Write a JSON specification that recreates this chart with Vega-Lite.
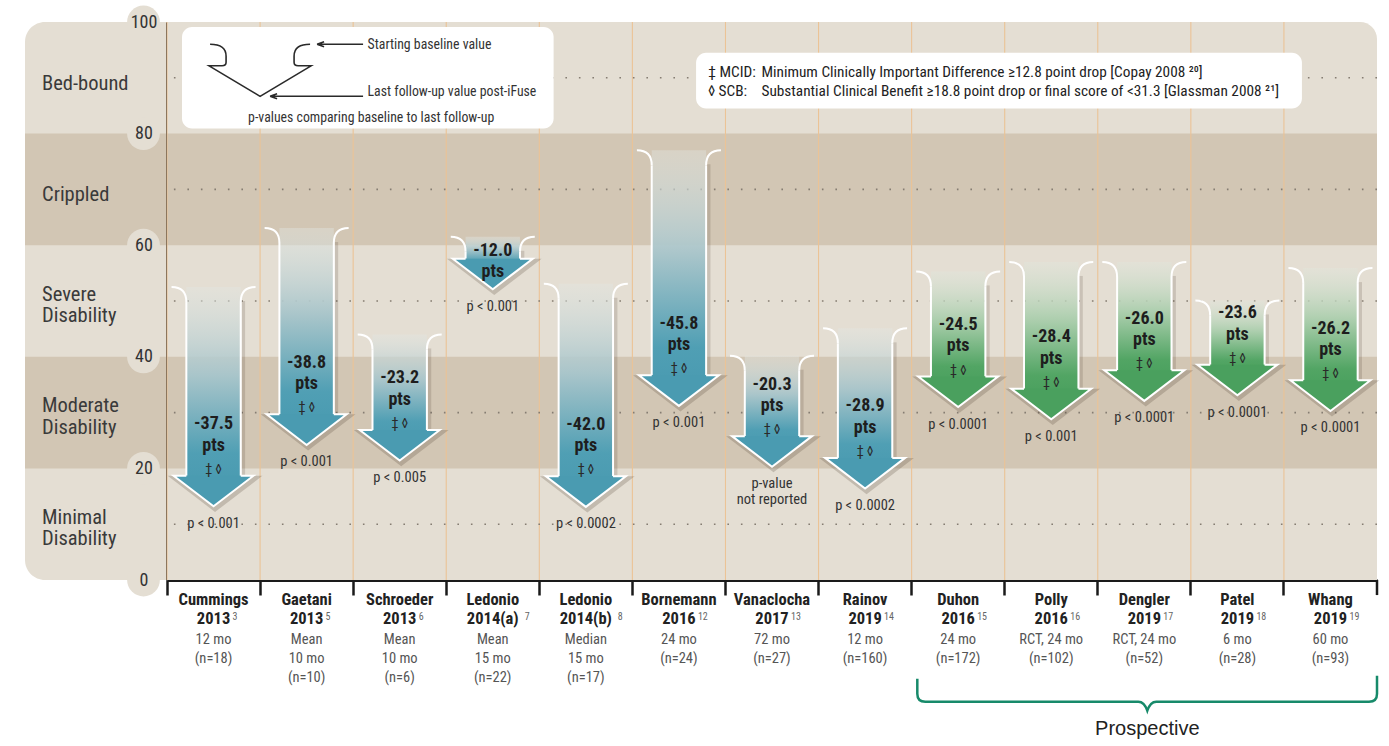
{
  "$schema": "https://vega.github.io/schema/vega-lite/v6.json",
  "background": "white",
  "padding": {"left": 25, "top": 5, "right": 5, "bottom": 5},
  "spacing": 0,
  "bounds": "flush",
  "config": {
    "view": {"stroke": null},
    "font": "Roboto Condensed, DejaVu Sans Condensed, Liberation Sans Narrow, Arial Narrow, Roboto, sans-serif",
    "text": {"font": "Roboto Condensed, DejaVu Sans Condensed, Liberation Sans Narrow, Arial Narrow, Roboto, sans-serif"},
    "axis": {"zindex": 1, "labelFont": "Roboto Condensed, DejaVu Sans Condensed, Liberation Sans Narrow, Arial Narrow, Roboto, sans-serif", "grid": false},
    "axisX": {"bandPosition": 0, "labels": false, "ticks": true, "tickSize": 15, "tickWidth": 2.5, "tickColor": "#1a1a1a", "domainColor": "#1a1a1a", "domainWidth": 3},
    "axisY": {"tickCount": 6, "ticks": false, "domainColor": "#1a1a1a", "domainWidth": 3, "labelAlign": "center", "labelBaseline": "middle", "labelPadding": 23.5, "labelFontSize": 18, "labelColor": "#333333"}
  },
  "datasets": {
    "studies": [
      {"study": "Cummings 2013", "name": "Cummings", "year": "2013", "sup": "3", "detail": "12 mo\n(n=18)", "base": 52.5, "final": 13.2, "label": "-37.5\npts", "sig": "‡ ◊", "p": "p < 0.001", "group": "retro"},
      {"study": "Gaetani 2013", "name": "Gaetani", "year": "2013", "sup": "5", "detail": "Mean\n10 mo\n(n=10)", "base": 63.1, "final": 24.2, "label": "-38.8\npts", "sig": "‡ ◊", "p": "p < 0.001", "group": "retro"},
      {"study": "Schroeder 2013", "name": "Schroeder", "year": "2013", "sup": "6", "detail": "Mean\n10 mo\n(n=6)", "base": 44.0, "final": 21.4, "label": "-23.2\npts", "sig": "‡ ◊", "p": "p < 0.005", "group": "retro"},
      {"study": "Ledonio 2014(a)", "name": "Ledonio", "year": "2014(a)", "sup": "7", "detail": "Mean\n15 mo\n(n=22)", "base": 61.5, "final": 52.1, "label": "-12.0\npts", "sig": "", "p": "p < 0.001", "group": "retro"},
      {"study": "Ledonio 2014(b)", "name": "Ledonio", "year": "2014(b)", "sup": "8", "detail": "Median\n15 mo\n(n=17)", "base": 53.1, "final": 13.1, "label": "-42.0\npts", "sig": "‡ ◊", "p": "p < 0.0002", "group": "retro"},
      {"study": "Bornemann 2016", "name": "Bornemann", "year": "2016", "sup": "12", "detail": "24 mo\n(n=24)", "base": 77.0, "final": 31.2, "label": "-45.8\npts", "sig": "‡ ◊", "p": "p < 0.001", "group": "retro"},
      {"study": "Vanaclocha 2017", "name": "Vanaclocha", "year": "2017", "sup": "13", "detail": "72 mo\n(n=27)", "base": 40.2, "final": 20.3, "label": "-20.3\npts", "sig": "‡ ◊", "p": "p-value\nnot reported", "group": "retro"},
      {"study": "Rainov 2019", "name": "Rainov", "year": "2019", "sup": "14", "detail": "12 mo\n(n=160)", "base": 45.1, "final": 16.4, "label": "-28.9\npts", "sig": "‡ ◊", "p": "p < 0.0002", "group": "retro"},
      {"study": "Duhon 2016", "name": "Duhon", "year": "2016", "sup": "15", "detail": "24 mo\n(n=172)", "base": 55.3, "final": 31.0, "label": "-24.5\npts", "sig": "‡ ◊", "p": "p < 0.0001", "group": "pro"},
      {"study": "Polly 2016", "name": "Polly", "year": "2016", "sup": "16", "detail": "RCT, 24 mo\n(n=102)", "base": 57.0, "final": 28.8, "label": "-28.4\npts", "sig": "‡ ◊", "p": "p < 0.001", "group": "pro"},
      {"study": "Dengler 2019", "name": "Dengler", "year": "2019", "sup": "17", "detail": "RCT, 24 mo\n(n=52)", "base": 57.0, "final": 32.1, "label": "-26.0\npts", "sig": "‡ ◊", "p": "p < 0.0001", "group": "pro"},
      {"study": "Patel 2019", "name": "Patel", "year": "2019", "sup": "18", "detail": "6 mo\n(n=28)", "base": 50.1, "final": 33.1, "label": "-23.6\npts", "sig": "‡ ◊", "p": "p < 0.0001", "group": "pro"},
      {"study": "Whang 2019", "name": "Whang", "year": "2019", "sup": "19", "detail": "60 mo\n(n=93)", "base": 55.9, "final": 30.3, "label": "-26.2\npts", "sig": "‡ ◊", "p": "p < 0.0001", "group": "pro"}
    ],
    "bands": [
      {"lo": 80, "hi": 100, "mid": 90, "label": "Bed-bound", "shade": "light"},
      {"lo": 60, "hi": 80, "mid": 70, "label": "Crippled", "shade": "dark"},
      {"lo": 40, "hi": 60, "mid": 50, "label": "Severe\nDisability", "shade": "light"},
      {"lo": 20, "hi": 40, "mid": 30, "label": "Moderate\nDisability", "shade": "dark"},
      {"lo": 0, "hi": 20, "mid": 10, "label": "Minimal\nDisability", "shade": "light"}
    ],
    "ticks": [{"v": 0}, {"v": 20}, {"v": 40}, {"v": 60}, {"v": 80}, {"v": 100}]
  },
  "hconcat": [
    {
      "width": 142,
      "height": 558,
      "layer": [
        {
          "data": {"values": [{"top": 100, "bottom": 0}]},
          "mark": {"type": "rect", "fill": "#e4ded3", "cornerRadiusTopLeft": 20, "cornerRadiusBottomLeft": 20},
          "encoding": {
            "y": {"field": "top", "type": "quantitative", "scale": {"domain": [0, 100], "nice": false}, "axis": null},
            "y2": {"field": "bottom"}
          }
        },
        {
          "data": {"name": "bands"},
          "transform": [{"filter": "datum.shade === 'dark'"}],
          "mark": {"type": "rect", "fill": "#d2c6b4"},
          "encoding": {
            "y": {"field": "hi", "type": "quantitative", "scale": {"domain": [0, 100], "nice": false}, "axis": null},
            "y2": {"field": "lo"}
          }
        },
        {
          "data": {"name": "ticks"},
          "mark": {"type": "point", "shape": "circle", "size": 1075, "filled": true, "fill": "#e4ded3", "opacity": 1, "strokeWidth": 0},
          "encoding": {
            "x": {"datum": 0.8345, "type": "quantitative", "scale": {"domain": [0, 1], "nice": false, "zero": false}, "axis": null},
            "y": {"field": "v", "type": "quantitative", "scale": {"domain": [0, 100], "nice": false}, "axis": null}
          }
        },
        {
          "data": {"name": "bands"},
          "transform": [{"filter": "datum.mid >= 70"}],
          "mark": {"type": "text", "align": "left", "baseline": "middle", "dy": 6, "fontSize": 20.5, "color": "#3a3a3a"},
          "encoding": {
            "x": {"datum": 0.12, "type": "quantitative", "scale": {"domain": [0, 1], "nice": false, "zero": false}, "axis": null},
            "y": {"field": "mid", "type": "quantitative", "scale": {"domain": [0, 100], "nice": false}, "axis": null},
            "text": {"field": "label"}
          }
        },
        {
          "data": {"name": "bands"},
          "transform": [{"filter": "datum.mid < 70"}],
          "mark": {"type": "text", "align": "left", "baseline": "middle", "dy": -6.5, "fontSize": 20.5, "color": "#3a3a3a", "lineBreak": "\n", "lineHeight": 21.5},
          "encoding": {
            "x": {"datum": 0.12, "type": "quantitative", "scale": {"domain": [0, 1], "nice": false, "zero": false}, "axis": null},
            "y": {"field": "mid", "type": "quantitative", "scale": {"domain": [0, 100], "nice": false}, "axis": null},
            "text": {"field": "label"}
          }
        }
      ]
    },
    {
      "width": 1210,
      "height": 558,
      "layer": [
        {
          "data": {"values": [{"top": 100, "bottom": 0}]},
          "mark": {"type": "rect", "fill": "#e4ded3", "cornerRadiusTopRight": 17},
          "encoding": {
            "y": {"field": "top", "type": "quantitative", "scale": {"domain": [0, 100], "nice": false}, "title": null},
            "y2": {"field": "bottom"}
          }
        },
        {
          "data": {"name": "bands"},
          "transform": [{"filter": "datum.shade === 'dark'"}],
          "mark": {"type": "rect", "fill": "#d2c6b4"},
          "encoding": {
            "y": {"field": "hi", "type": "quantitative", "scale": {"domain": [0, 100], "nice": false}, "title": null},
            "y2": {"field": "lo"}
          }
        },
        {
          "data": {"name": "studies"},
          "mark": {"type": "rule", "color": "#ebc396", "strokeWidth": 1.1},
          "encoding": {
            "x": {"field": "study", "type": "nominal", "bandPosition": 0, "title": null, "scale": {"domain": ["Cummings 2013", "Gaetani 2013", "Schroeder 2013", "Ledonio 2014(a)", "Ledonio 2014(b)", "Bornemann 2016", "Vanaclocha 2017", "Rainov 2019", "Duhon 2016", "Polly 2016", "Dengler 2019", "Patel 2019", "Whang 2019"], "paddingInner": 0, "paddingOuter": 0}}
          }
        },
        {
          "data": {"name": "bands"},
          "mark": {"type": "rule", "color": "#857d72", "strokeWidth": 1.6, "strokeDash": [1.6, 11.9]},
          "encoding": {
            "y": {"field": "mid", "type": "quantitative", "scale": {"domain": [0, 100], "nice": false}, "title": null}
          }
        },
        {
          "data": {"values": [{"study": "Cummings 2013", "end": "Ledonio 2014(b)", "top": 99.1, "bottom": 80.9}]},
          "mark": {"type": "rect", "fill": "white", "cornerRadius": 10, "xOffset": 15, "x2Offset": 14.3},
          "encoding": {
            "x": {"field": "study", "type": "nominal", "bandPosition": 0, "title": null, "scale": {"domain": ["Cummings 2013", "Gaetani 2013", "Schroeder 2013", "Ledonio 2014(a)", "Ledonio 2014(b)", "Bornemann 2016", "Vanaclocha 2017", "Rainov 2019", "Duhon 2016", "Polly 2016", "Dengler 2019", "Patel 2019", "Whang 2019"], "paddingInner": 0, "paddingOuter": 0}},
            "x2": {"field": "end", "bandPosition": 0},
            "y": {"field": "top", "type": "quantitative", "scale": {"domain": [0, 100], "nice": false}, "title": null},
            "y2": {"field": "bottom"}
          }
        },
        {
          "data": {"values": [{"study": "Bornemann 2016", "end": "Whang 2019", "top": 94.5, "bottom": 84.5}]},
          "mark": {"type": "rect", "fill": "white", "cornerRadius": 10, "xOffset": 63.7, "x2Offset": 18},
          "encoding": {
            "x": {"field": "study", "type": "nominal", "bandPosition": 0, "title": null, "scale": {"domain": ["Cummings 2013", "Gaetani 2013", "Schroeder 2013", "Ledonio 2014(a)", "Ledonio 2014(b)", "Bornemann 2016", "Vanaclocha 2017", "Rainov 2019", "Duhon 2016", "Polly 2016", "Dengler 2019", "Patel 2019", "Whang 2019"], "paddingInner": 0, "paddingOuter": 0}},
            "x2": {"field": "end", "bandPosition": 0},
            "y": {"field": "top", "type": "quantitative", "scale": {"domain": [0, 100], "nice": false}, "title": null},
            "y2": {"field": "bottom"}
          }
        },
        {
          "data": {"values": [{"study": "Gaetani 2013", "v": 96.0}]},
          "mark": {"type": "point", "shape": "M -50 0 C -40 0 -34 3 -34 12 L -34 18 Q -34 21.5 -38 21.5 L -51 21.5 L 0 52 L 51 21.5 L 38 21.5 Q 34 21.5 34 18 L 34 12 C 34 3 40 0 50 0 M 57 0 L 103 0 M 57 0 L 64 -2.5 M 57 0 L 64 2.5 M 10 52 L 103 52 M 10 52 L 17 49.5 M 10 52 L 17 54.5", "size": 4, "filled": false, "stroke": "#2a2a2a", "strokeWidth": 1.6, "opacity": 1},
          "encoding": {
            "x": {"field": "study", "type": "nominal", "bandPosition": 0, "title": null, "scale": {"domain": ["Cummings 2013", "Gaetani 2013", "Schroeder 2013", "Ledonio 2014(a)", "Ledonio 2014(b)", "Bornemann 2016", "Vanaclocha 2017", "Rainov 2019", "Duhon 2016", "Polly 2016", "Dengler 2019", "Patel 2019", "Whang 2019"], "paddingInner": 0, "paddingOuter": 0}},
            "y": {"field": "v", "type": "quantitative", "scale": {"domain": [0, 100], "nice": false}, "title": null}
          }
        },
        {
          "data": {"values": [{"study": "Schroeder 2013", "v": 95.9, "t": "Starting baseline value"}, {"study": "Schroeder 2013", "v": 87.4, "t": "Last follow-up value post-iFuse"}]},
          "mark": {"type": "text", "align": "left", "baseline": "middle", "dx": 14.4, "fontSize": 13.8, "color": "#333333"},
          "encoding": {
            "x": {"field": "study", "type": "nominal", "bandPosition": 0, "title": null, "scale": {"domain": ["Cummings 2013", "Gaetani 2013", "Schroeder 2013", "Ledonio 2014(a)", "Ledonio 2014(b)", "Bornemann 2016", "Vanaclocha 2017", "Rainov 2019", "Duhon 2016", "Polly 2016", "Dengler 2019", "Patel 2019", "Whang 2019"], "paddingInner": 0, "paddingOuter": 0}},
            "y": {"field": "v", "type": "quantitative", "scale": {"domain": [0, 100], "nice": false}, "title": null},
            "text": {"field": "t"}
          }
        },
        {
          "data": {"values": [{"study": "Schroeder 2013", "v": 82.8, "t": "p-values comparing baseline to last follow-up"}]},
          "mark": {"type": "text", "align": "center", "baseline": "middle", "dx": 18, "fontSize": 13.8, "color": "#333333"},
          "encoding": {
            "x": {"field": "study", "type": "nominal", "bandPosition": 0, "title": null, "scale": {"domain": ["Cummings 2013", "Gaetani 2013", "Schroeder 2013", "Ledonio 2014(a)", "Ledonio 2014(b)", "Bornemann 2016", "Vanaclocha 2017", "Rainov 2019", "Duhon 2016", "Polly 2016", "Dengler 2019", "Patel 2019", "Whang 2019"], "paddingInner": 0, "paddingOuter": 0}},
            "y": {"field": "v", "type": "quantitative", "scale": {"domain": [0, 100], "nice": false}, "title": null},
            "text": {"field": "t"}
          }
        },
        {
          "data": {"values": [{"study": "Vanaclocha 2017", "v": 91.1, "t": "‡ MCID:"}, {"study": "Vanaclocha 2017", "v": 87.6, "t": "◊ SCB:"}]},
          "mark": {"type": "text", "align": "left", "baseline": "middle", "dx": -17.2, "fontSize": 15.3, "color": "#222222"},
          "encoding": {
            "x": {"field": "study", "type": "nominal", "bandPosition": 0, "title": null, "scale": {"domain": ["Cummings 2013", "Gaetani 2013", "Schroeder 2013", "Ledonio 2014(a)", "Ledonio 2014(b)", "Bornemann 2016", "Vanaclocha 2017", "Rainov 2019", "Duhon 2016", "Polly 2016", "Dengler 2019", "Patel 2019", "Whang 2019"], "paddingInner": 0, "paddingOuter": 0}},
            "y": {"field": "v", "type": "quantitative", "scale": {"domain": [0, 100], "nice": false}, "title": null},
            "text": {"field": "t"}
          }
        },
        {
          "data": {"values": [{"study": "Vanaclocha 2017", "v": 91.1, "t": "Minimum Clinically Important Difference ≥12.8 point drop  [Copay 2008 ²⁰]"}, {"study": "Vanaclocha 2017", "v": 87.6, "t": "Substantial Clinical Benefit ≥18.8 point drop or final score of <31.3   [Glassman 2008 ²¹]"}]},
          "mark": {"type": "text", "align": "left", "baseline": "middle", "dx": 36, "fontSize": 15.3, "color": "#222222"},
          "encoding": {
            "x": {"field": "study", "type": "nominal", "bandPosition": 0, "title": null, "scale": {"domain": ["Cummings 2013", "Gaetani 2013", "Schroeder 2013", "Ledonio 2014(a)", "Ledonio 2014(b)", "Bornemann 2016", "Vanaclocha 2017", "Rainov 2019", "Duhon 2016", "Polly 2016", "Dengler 2019", "Patel 2019", "Whang 2019"], "paddingInner": 0, "paddingOuter": 0}},
            "y": {"field": "v", "type": "quantitative", "scale": {"domain": [0, 100], "nice": false}, "title": null},
            "text": {"field": "t"}
          }
        },
        {
          "data": {"name": "studies"},
          "transform": [{"filter": "datum.group === 'retro'"}],
          "mark": {"type": "bar", "width": {"band": 0.584}, "y2Offset": -24, "fill": {"gradient": "linear", "x1": 0, "y1": 0, "x2": 0, "y2": 1, "stops": [{"offset": 0, "color": "rgba(226,230,226,0.4)"}, {"offset": 0.45, "color": "#a9c5ca"}, {"offset": 0.85, "color": "#509fb4"}, {"offset": 1, "color": "#4a9bb1"}]}},
          "encoding": {
            "x": {"field": "study", "type": "nominal", "title": null, "scale": {"domain": ["Cummings 2013", "Gaetani 2013", "Schroeder 2013", "Ledonio 2014(a)", "Ledonio 2014(b)", "Bornemann 2016", "Vanaclocha 2017", "Rainov 2019", "Duhon 2016", "Polly 2016", "Dengler 2019", "Patel 2019", "Whang 2019"], "paddingInner": 0, "paddingOuter": 0}},
            "y": {"field": "base", "type": "quantitative", "scale": {"domain": [0, 100], "nice": false}, "title": null},
            "y2": {"field": "final"}
          }
        },
        {
          "data": {"name": "studies"},
          "transform": [{"filter": "datum.group === 'pro'"}],
          "mark": {"type": "bar", "width": {"band": 0.584}, "y2Offset": -24, "fill": {"gradient": "linear", "x1": 0, "y1": 0, "x2": 0, "y2": 1, "stops": [{"offset": 0, "color": "rgba(224,230,220,0.4)"}, {"offset": 0.45, "color": "#a9cdab"}, {"offset": 0.85, "color": "#52a564"}, {"offset": 1, "color": "#4aa05e"}]}},
          "encoding": {
            "x": {"field": "study", "type": "nominal", "title": null, "scale": {"domain": ["Cummings 2013", "Gaetani 2013", "Schroeder 2013", "Ledonio 2014(a)", "Ledonio 2014(b)", "Bornemann 2016", "Vanaclocha 2017", "Rainov 2019", "Duhon 2016", "Polly 2016", "Dengler 2019", "Patel 2019", "Whang 2019"], "paddingInner": 0, "paddingOuter": 0}},
            "y": {"field": "base", "type": "quantitative", "scale": {"domain": [0, 100], "nice": false}, "title": null},
            "y2": {"field": "final"}
          }
        },
        {
          "data": {"name": "studies"},
          "mark": {"type": "rule", "color": "rgba(60,45,30,0.16)", "strokeWidth": 3.5, "xOffset": 29.8, "yOffset": 14, "y2Offset": -29},
          "encoding": {
            "x": {"field": "study", "type": "nominal", "title": null, "scale": {"domain": ["Cummings 2013", "Gaetani 2013", "Schroeder 2013", "Ledonio 2014(a)", "Ledonio 2014(b)", "Bornemann 2016", "Vanaclocha 2017", "Rainov 2019", "Duhon 2016", "Polly 2016", "Dengler 2019", "Patel 2019", "Whang 2019"], "paddingInner": 0, "paddingOuter": 0}},
            "y": {"field": "base", "type": "quantitative", "scale": {"domain": [0, 100], "nice": false}, "title": null},
            "y2": {"field": "final"}
          }
        },
        {
          "data": {"name": "studies"},
          "mark": {"type": "rule", "color": "white", "strokeWidth": 2, "xOffset": -27.2, "yOffset": 15, "y2Offset": -30.6},
          "encoding": {
            "x": {"field": "study", "type": "nominal", "title": null, "scale": {"domain": ["Cummings 2013", "Gaetani 2013", "Schroeder 2013", "Ledonio 2014(a)", "Ledonio 2014(b)", "Bornemann 2016", "Vanaclocha 2017", "Rainov 2019", "Duhon 2016", "Polly 2016", "Dengler 2019", "Patel 2019", "Whang 2019"], "paddingInner": 0, "paddingOuter": 0}},
            "y": {"field": "base", "type": "quantitative", "scale": {"domain": [0, 100], "nice": false}, "title": null},
            "y2": {"field": "final"}
          }
        },
        {
          "data": {"name": "studies"},
          "mark": {"type": "rule", "color": "white", "strokeWidth": 2, "xOffset": 27.2, "yOffset": 15, "y2Offset": -30.6},
          "encoding": {
            "x": {"field": "study", "type": "nominal", "title": null, "scale": {"domain": ["Cummings 2013", "Gaetani 2013", "Schroeder 2013", "Ledonio 2014(a)", "Ledonio 2014(b)", "Bornemann 2016", "Vanaclocha 2017", "Rainov 2019", "Duhon 2016", "Polly 2016", "Dengler 2019", "Patel 2019", "Whang 2019"], "paddingInner": 0, "paddingOuter": 0}},
            "y": {"field": "base", "type": "quantitative", "scale": {"domain": [0, 100], "nice": false}, "title": null},
            "y2": {"field": "final"}
          }
        },
        {
          "data": {"name": "studies"},
          "mark": {"type": "point", "shape": "M -42 0 C -32 0 -27.2 5 -27.2 15 M 42 0 C 32 0 27.2 5 27.2 15", "size": 4, "filled": false, "stroke": "white", "strokeWidth": 2, "opacity": 1},
          "encoding": {
            "x": {"field": "study", "type": "nominal", "title": null, "scale": {"domain": ["Cummings 2013", "Gaetani 2013", "Schroeder 2013", "Ledonio 2014(a)", "Ledonio 2014(b)", "Bornemann 2016", "Vanaclocha 2017", "Rainov 2019", "Duhon 2016", "Polly 2016", "Dengler 2019", "Patel 2019", "Whang 2019"], "paddingInner": 0, "paddingOuter": 0}},
            "y": {"field": "base", "type": "quantitative", "scale": {"domain": [0, 100], "nice": false}, "title": null}
          }
        },
        {
          "data": {"name": "studies"},
          "mark": {"type": "point", "shape": "M -27.2 -30.6 L -40 -30.6 L 0 0 L 40 -30.6 L 27.2 -30.6", "size": 4, "filled": false, "stroke": "rgba(60,45,30,0.2)", "strokeWidth": 5, "opacity": 1, "xOffset": 1.5, "yOffset": 2.5},
          "encoding": {
            "x": {"field": "study", "type": "nominal", "title": null, "scale": {"domain": ["Cummings 2013", "Gaetani 2013", "Schroeder 2013", "Ledonio 2014(a)", "Ledonio 2014(b)", "Bornemann 2016", "Vanaclocha 2017", "Rainov 2019", "Duhon 2016", "Polly 2016", "Dengler 2019", "Patel 2019", "Whang 2019"], "paddingInner": 0, "paddingOuter": 0}},
            "y": {"field": "final", "type": "quantitative", "scale": {"domain": [0, 100], "nice": false}, "title": null}
          }
        },
        {
          "data": {"name": "studies"},
          "mark": {"type": "point", "shape": "M -27.2 -30.6 L -40 -30.6 L 0 0 L 40 -30.6 L 27.2 -30.6", "size": 4, "filled": true, "stroke": "white", "strokeWidth": 2, "opacity": 1},
          "encoding": {
            "x": {"field": "study", "type": "nominal", "title": null, "scale": {"domain": ["Cummings 2013", "Gaetani 2013", "Schroeder 2013", "Ledonio 2014(a)", "Ledonio 2014(b)", "Bornemann 2016", "Vanaclocha 2017", "Rainov 2019", "Duhon 2016", "Polly 2016", "Dengler 2019", "Patel 2019", "Whang 2019"], "paddingInner": 0, "paddingOuter": 0}},
            "y": {"field": "final", "type": "quantitative", "scale": {"domain": [0, 100], "nice": false}, "title": null},
            "color": {"field": "group", "type": "nominal", "scale": {"domain": ["retro", "pro"], "range": ["#4a9bb1", "#4aa05e"]}, "legend": null}
          }
        },
        {
          "data": {"name": "studies"},
          "transform": [{"filter": "datum.sig !== ''"}],
          "mark": {"type": "text", "baseline": "top", "dy": -91.2, "fontSize": 18, "fontWeight": "bold", "color": "#1e1e1e", "lineBreak": "\n", "lineHeight": 21.5},
          "encoding": {
            "x": {"field": "study", "type": "nominal", "title": null, "scale": {"domain": ["Cummings 2013", "Gaetani 2013", "Schroeder 2013", "Ledonio 2014(a)", "Ledonio 2014(b)", "Bornemann 2016", "Vanaclocha 2017", "Rainov 2019", "Duhon 2016", "Polly 2016", "Dengler 2019", "Patel 2019", "Whang 2019"], "paddingInner": 0, "paddingOuter": 0}},
            "y": {"field": "final", "type": "quantitative", "scale": {"domain": [0, 100], "nice": false}, "title": null},
            "text": {"field": "label"}
          }
        },
        {
          "data": {"name": "studies"},
          "transform": [{"filter": "datum.sig !== ''"}],
          "mark": {"type": "text", "baseline": "middle", "dy": -36.5, "fontSize": 14, "color": "#2a2a2a"},
          "encoding": {
            "x": {"field": "study", "type": "nominal", "title": null, "scale": {"domain": ["Cummings 2013", "Gaetani 2013", "Schroeder 2013", "Ledonio 2014(a)", "Ledonio 2014(b)", "Bornemann 2016", "Vanaclocha 2017", "Rainov 2019", "Duhon 2016", "Polly 2016", "Dengler 2019", "Patel 2019", "Whang 2019"], "paddingInner": 0, "paddingOuter": 0}},
            "y": {"field": "final", "type": "quantitative", "scale": {"domain": [0, 100], "nice": false}, "title": null},
            "text": {"field": "sig"}
          }
        },
        {
          "data": {"name": "studies"},
          "transform": [{"filter": "datum.sig === ''"}],
          "mark": {"type": "text", "baseline": "top", "dy": -47.7, "fontSize": 18, "fontWeight": "bold", "color": "#1e1e1e", "lineBreak": "\n", "lineHeight": 21.5},
          "encoding": {
            "x": {"field": "study", "type": "nominal", "title": null, "scale": {"domain": ["Cummings 2013", "Gaetani 2013", "Schroeder 2013", "Ledonio 2014(a)", "Ledonio 2014(b)", "Bornemann 2016", "Vanaclocha 2017", "Rainov 2019", "Duhon 2016", "Polly 2016", "Dengler 2019", "Patel 2019", "Whang 2019"], "paddingInner": 0, "paddingOuter": 0}},
            "y": {"field": "final", "type": "quantitative", "scale": {"domain": [0, 100], "nice": false}, "title": null},
            "text": {"field": "label"}
          }
        },
        {
          "data": {"name": "studies"},
          "mark": {"type": "text", "baseline": "top", "dy": 10.5, "fontSize": 14.5, "color": "#333333", "lineBreak": "\n", "lineHeight": 15.5},
          "encoding": {
            "x": {"field": "study", "type": "nominal", "title": null, "scale": {"domain": ["Cummings 2013", "Gaetani 2013", "Schroeder 2013", "Ledonio 2014(a)", "Ledonio 2014(b)", "Bornemann 2016", "Vanaclocha 2017", "Rainov 2019", "Duhon 2016", "Polly 2016", "Dengler 2019", "Patel 2019", "Whang 2019"], "paddingInner": 0, "paddingOuter": 0}},
            "y": {"field": "final", "type": "quantitative", "scale": {"domain": [0, 100], "nice": false}, "title": null},
            "text": {"field": "p"}
          }
        },
        {
          "data": {"name": "studies"},
          "mark": {"type": "text", "baseline": "top", "dy": 12.1, "fontSize": 16.5, "fontWeight": "bold", "color": "#222222"},
          "encoding": {
            "x": {"field": "study", "type": "nominal", "title": null, "scale": {"domain": ["Cummings 2013", "Gaetani 2013", "Schroeder 2013", "Ledonio 2014(a)", "Ledonio 2014(b)", "Bornemann 2016", "Vanaclocha 2017", "Rainov 2019", "Duhon 2016", "Polly 2016", "Dengler 2019", "Patel 2019", "Whang 2019"], "paddingInner": 0, "paddingOuter": 0}},
            "y": {"datum": 0, "type": "quantitative", "scale": {"domain": [0, 100], "nice": false}, "title": null},
            "text": {"field": "name"}
          }
        },
        {
          "data": {"name": "studies"},
          "mark": {"type": "text", "baseline": "top", "dy": 31.4, "fontSize": 16.5, "fontWeight": "bold", "color": "#222222"},
          "encoding": {
            "x": {"field": "study", "type": "nominal", "title": null, "scale": {"domain": ["Cummings 2013", "Gaetani 2013", "Schroeder 2013", "Ledonio 2014(a)", "Ledonio 2014(b)", "Bornemann 2016", "Vanaclocha 2017", "Rainov 2019", "Duhon 2016", "Polly 2016", "Dengler 2019", "Patel 2019", "Whang 2019"], "paddingInner": 0, "paddingOuter": 0}},
            "y": {"datum": 0, "type": "quantitative", "scale": {"domain": [0, 100], "nice": false}, "title": null},
            "text": {"field": "year"}
          }
        },
        {
          "data": {"name": "studies"},
          "transform": [{"filter": "length(datum.year) <= 4"}],
          "mark": {"type": "text", "align": "left", "baseline": "middle", "dx": 19, "dy": 37, "fontSize": 10, "color": "#666666"},
          "encoding": {
            "x": {"field": "study", "type": "nominal", "title": null, "scale": {"domain": ["Cummings 2013", "Gaetani 2013", "Schroeder 2013", "Ledonio 2014(a)", "Ledonio 2014(b)", "Bornemann 2016", "Vanaclocha 2017", "Rainov 2019", "Duhon 2016", "Polly 2016", "Dengler 2019", "Patel 2019", "Whang 2019"], "paddingInner": 0, "paddingOuter": 0}},
            "y": {"datum": 0, "type": "quantitative", "scale": {"domain": [0, 100], "nice": false}, "title": null},
            "text": {"field": "sup"}
          }
        },
        {
          "data": {"name": "studies"},
          "transform": [{"filter": "length(datum.year) > 4"}],
          "mark": {"type": "text", "align": "left", "baseline": "middle", "dx": 32, "dy": 37, "fontSize": 10, "color": "#666666"},
          "encoding": {
            "x": {"field": "study", "type": "nominal", "title": null, "scale": {"domain": ["Cummings 2013", "Gaetani 2013", "Schroeder 2013", "Ledonio 2014(a)", "Ledonio 2014(b)", "Bornemann 2016", "Vanaclocha 2017", "Rainov 2019", "Duhon 2016", "Polly 2016", "Dengler 2019", "Patel 2019", "Whang 2019"], "paddingInner": 0, "paddingOuter": 0}},
            "y": {"datum": 0, "type": "quantitative", "scale": {"domain": [0, 100], "nice": false}, "title": null},
            "text": {"field": "sup"}
          }
        },
        {
          "data": {"name": "studies"},
          "mark": {"type": "text", "baseline": "top", "dy": 53, "fontSize": 14.5, "color": "#555555", "lineBreak": "\n", "lineHeight": 19},
          "encoding": {
            "x": {"field": "study", "type": "nominal", "title": null, "scale": {"domain": ["Cummings 2013", "Gaetani 2013", "Schroeder 2013", "Ledonio 2014(a)", "Ledonio 2014(b)", "Bornemann 2016", "Vanaclocha 2017", "Rainov 2019", "Duhon 2016", "Polly 2016", "Dengler 2019", "Patel 2019", "Whang 2019"], "paddingInner": 0, "paddingOuter": 0}},
            "y": {"datum": 0, "type": "quantitative", "scale": {"domain": [0, 100], "nice": false}, "title": null},
            "text": {"field": "detail"}
          }
        },
        {
          "data": {"values": [{"study": "Whang 2019", "a": 0, "b": -2.7}]},
          "mark": {"type": "rule", "color": "#1a1a1a", "strokeWidth": 2.5},
          "encoding": {
            "x": {"field": "study", "type": "nominal", "bandPosition": 1, "title": null, "scale": {"domain": ["Cummings 2013", "Gaetani 2013", "Schroeder 2013", "Ledonio 2014(a)", "Ledonio 2014(b)", "Bornemann 2016", "Vanaclocha 2017", "Rainov 2019", "Duhon 2016", "Polly 2016", "Dengler 2019", "Patel 2019", "Whang 2019"], "paddingInner": 0, "paddingOuter": 0}},
            "y": {"field": "a", "type": "quantitative", "scale": {"domain": [0, 100], "nice": false}, "title": null},
            "y2": {"field": "b"}
          }
        },
        {
          "data": {"values": [{"study": "Dengler 2019", "v": -21.8}]},
          "mark": {"type": "point", "shape": "M -227 -23 L -227 -8 Q -227 0 -219 0 L -6 0 Q 0 0 3 9 Q 6 0 12 0 L 224.7 0 Q 232.7 0 232.7 -8 L 232.7 -26", "size": 4, "filled": false, "stroke": "#178a6a", "strokeWidth": 2.5, "opacity": 1},
          "encoding": {
            "x": {"field": "study", "type": "nominal", "title": null, "scale": {"domain": ["Cummings 2013", "Gaetani 2013", "Schroeder 2013", "Ledonio 2014(a)", "Ledonio 2014(b)", "Bornemann 2016", "Vanaclocha 2017", "Rainov 2019", "Duhon 2016", "Polly 2016", "Dengler 2019", "Patel 2019", "Whang 2019"], "paddingInner": 0, "paddingOuter": 0}},
            "y": {"field": "v", "type": "quantitative", "scale": {"domain": [0, 100], "nice": false}, "title": null}
          }
        },
        {
          "data": {"values": [{"study": "Dengler 2019", "v": -26.7, "t": "Prospective"}]},
          "mark": {"type": "text", "font": "Liberation Sans", "fontSize": 20, "color": "#222222", "dx": 3, "baseline": "middle"},
          "encoding": {
            "x": {"field": "study", "type": "nominal", "title": null, "scale": {"domain": ["Cummings 2013", "Gaetani 2013", "Schroeder 2013", "Ledonio 2014(a)", "Ledonio 2014(b)", "Bornemann 2016", "Vanaclocha 2017", "Rainov 2019", "Duhon 2016", "Polly 2016", "Dengler 2019", "Patel 2019", "Whang 2019"], "paddingInner": 0, "paddingOuter": 0}},
            "y": {"field": "v", "type": "quantitative", "scale": {"domain": [0, 100], "nice": false}, "title": null},
            "text": {"field": "t"}
          }
        }
      ]
    }
  ]
}
